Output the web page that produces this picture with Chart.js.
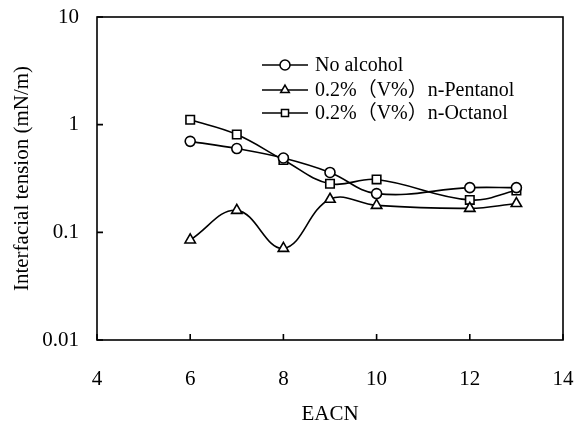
<!DOCTYPE html>
<html>
<head>
<meta charset="utf-8">
<script src="https://cdn.jsdelivr.net/npm/chart.js@4/dist/chart.umd.min.js"></script>
<style>
  html, body { margin: 0; padding: 0; background: #fff; }
  #wrap { width: 575px; height: 423px; }
</style>
</head>
<body>
<div id="wrap"><canvas id="ift"></canvas></div>
<script>
// EACN-Werte und Grenzflächenspannung je Alkohol
const eacn = [6, 7, 8, 9, 10, 12, 13];
const noAlcohol = [0.70, 0.60, 0.49, 0.36, 0.229, 0.26, 0.26];
const pentanol = [0.085, 0.16, 0.071, 0.203, 0.178, 0.167, 0.185];
const octanol = [1.11, 0.81, 0.47, 0.283, 0.31, 0.20, 0.245];
const seriesNames = ['No alcohol', '0.2%（V%）n-Pentanol', '0.2%（V%）n-Octanol'];
const seriesMarks = ['circle', 'triangle', 'rect'];
const yTicks = [0.01, 0.1, 1, 10];
const xTicks = [4, 6, 8, 10, 12, 14];

const serif = '"Liberation Serif", "Times New Roman", "Noto Sans CJK SC", serif';

function series(name, values, mark) {
  return {
    label: name,
    data: eacn.map((x, i) => ({ x: x, y: values[i] })),
    borderColor: '#000',
    borderWidth: 1.6,
    tension: 0.4,
    pointStyle: mark,
    pointRadius: mark === 'circle' ? 5 : 6,
    pointBackgroundColor: '#fff',
    pointBorderColor: '#000',
    pointBorderWidth: 1.6,
    fill: false
  };
}

// Rahmen, Ticks nach innen und Legende im Diagramm
const frame = {
  id: 'frame',
  afterDraw(chart) {
    const ctx = chart.ctx;
    const a = chart.chartArea;
    const xs = chart.scales.x, ys = chart.scales.y;
    ctx.save();
    ctx.strokeStyle = '#000';
    ctx.lineWidth = 1.6;
    ctx.strokeRect(a.left, a.top, a.right - a.left, a.bottom - a.top);
    ctx.beginPath();
    yTicks.forEach(v => {
      const y = ys.getPixelForValue(v);
      ctx.moveTo(a.left, y); ctx.lineTo(a.left + 6, y);
    });
    xTicks.forEach(v => {
      const x = xs.getPixelForValue(v);
      ctx.moveTo(x, a.bottom); ctx.lineTo(x, a.bottom - 6);
    });
    ctx.stroke();

    const rows = [65, 90, 113];
    ctx.font = '20px ' + serif;
    ctx.textBaseline = 'middle';
    seriesNames.forEach((name, i) => {
      const y = rows[i];
      ctx.lineWidth = 1.5;
      ctx.beginPath();
      ctx.moveTo(262, y); ctx.lineTo(308, y);
      ctx.stroke();
      ctx.fillStyle = '#fff';
      Chart.helpers.drawPoint(ctx, { pointStyle: seriesMarks[i], radius: 5, rotation: 0, borderWidth: 1.5 }, 285, y);
      ctx.fillStyle = '#000';
      ctx.fillText(name, 315, y + 1);
    });
    ctx.restore();
  }
};

new Chart(document.getElementById('ift'), {
  type: 'line',
  data: {
    datasets: [
      series(seriesNames[0], noAlcohol, seriesMarks[0]),
      series(seriesNames[1], pentanol, seriesMarks[1]),
      series(seriesNames[2], octanol, seriesMarks[2])
    ]
  },
  options: {
    responsive: true,
    maintainAspectRatio: false,
    animation: false,
    layout: { padding: { top: 17, right: 12, left: 0, bottom: 0 } },
    plugins: { legend: { display: false }, tooltip: { enabled: false } },
    scales: {
      x: {
        type: 'linear',
        min: 4,
        max: 14,
        grid: { display: false },
        border: { display: false },
        ticks: { stepSize: 2, color: '#000', padding: 19, font: { family: serif, size: 21 } },
        title: { display: true, text: 'EACN', color: '#000', padding: { top: 0, bottom: -4 }, font: { family: serif, size: 21 } },
        afterFit(scale) {
          scale.height = 83;
          scale.paddingLeft = 0;
          scale.paddingRight = 0;
        }
      },
      y: {
        type: 'logarithmic',
        min: 0.01,
        max: 10,
        grid: { display: false },
        border: { display: false },
        afterBuildTicks(scale) { scale.ticks = yTicks.map(v => ({ value: v })); },
        ticks: {
          color: '#000',
          padding: 10,
          font: { family: serif, size: 21 },
          callback: v => String(v)
        },
        title: { display: true, text: 'Interfacial tension (mN/m)', color: '#000', padding: { top: 10, bottom: 0 }, font: { family: serif, size: 21 } },
        afterFit(scale) {
          scale.width = 97;
          scale.paddingTop = 0;
          scale.paddingBottom = 0;
        }
      }
    }
  },
  plugins: [frame]
});
</script>
</body>
</html>
